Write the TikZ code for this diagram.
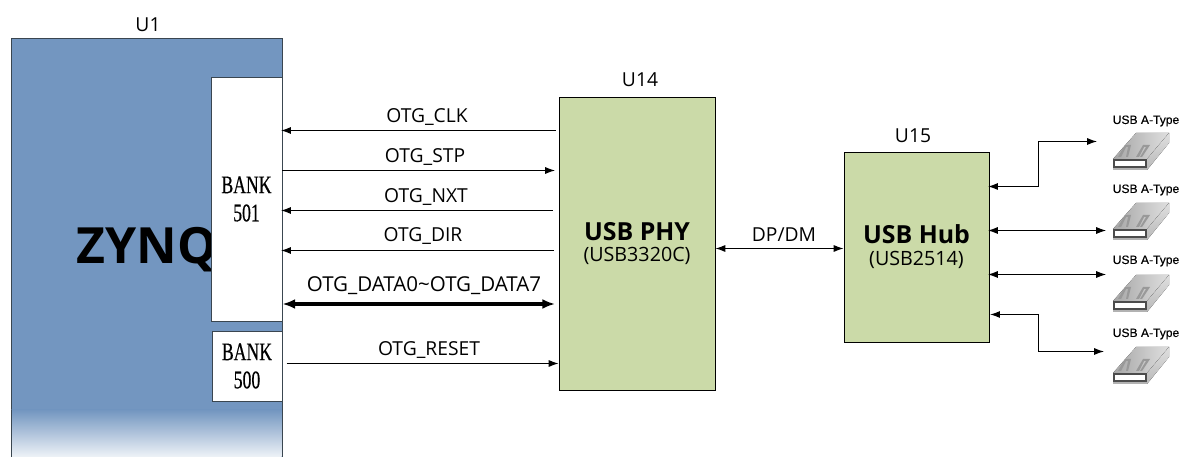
\documentclass[tikz,border=0pt]{standalone}
\usepackage{fontspec}
\setmainfont{Open Sans}
\newfontfamily\bankfont[FakeStretch=0.7,FakeBold=0.5]{Liberation Serif}
\newfontfamily\typefont[FakeBold=0.4]{Liberation Sans}
\usetikzlibrary{arrows.meta}
\definecolor{zynqblue}{HTML}{7396C0}
\definecolor{phygreen}{HTML}{CBDAA8}
\definecolor{frameline}{HTML}{3A4650}
\tikzset{
    chip/.style={draw=black, line width=0.6pt, fill=phygreen, inner sep=0pt, align=center},
    bank/.style={draw=frameline, line width=0.6pt, fill=white, inner sep=0pt, align=center, font=\bankfont\fontsize{18}{20}\selectfont},
    tag/.style={font=\fontsize{13.7}{15}\selectfont, inner sep=0pt},
    sig/.style={line width=0.75pt, >={Latex[length=7pt,width=5pt]}},
    bus/.style={line width=2.2pt, >={Latex[length=9pt,width=7pt]}},
    usbport/.pic={
        \fill[left color=gray!70, right color=gray!25] (0,26) -- (23,0) -- (56,0) -- (34,26) -- cycle;
        \fill[top color=gray!25, bottom color=gray!55] (34,26) -- (56,0) -- (56,10) -- (34,37) -- cycle;
        \fill[gray!80] (5,24) -- (12,12) -- (18,12) -- (15,24) -- (13,24) -- (15,14) -- (13,14) -- (8,24) -- cycle;
        \fill[gray!80] (23,24) -- (30,12) -- (37,12) -- (29,24) -- (27,24) -- (33,14) -- (31,14) -- (26,24) -- cycle;
        \fill[gray!60] (0,26) rectangle (34,37);
        \draw[black!70, fill=white, line width=0.8pt] (1,27) rectangle (33,34);
    }
}
\begin{document}
\begin{tikzpicture}[x=0.025cm, y=-0.025cm]
    \useasboundingbox (0,0) rectangle (1179,457);

    % zynq side
    \node[draw=frameline, line width=0.6pt, fill=zynqblue, inner sep=0pt, minimum width=6.775cm, minimum height=10.475cm] (zynq) at (146.5,247.5) {};
    \shade[top color=zynqblue, bottom color=zynqblue!12!white] (11.5,410) rectangle (281.5,456.9);
    \draw[frameline, line width=0.6pt] (11,410) -- (11,457) (282,410) -- (282,457);
    \node[font=\bfseries\fontsize{35.5}{40}\selectfont, inner sep=0pt] (zynqtext) at (147,250) {ZYNQ};
    \node[bank, minimum width=1.775cm, minimum height=6.1cm] (bankA) at (246.5,199) {BANK\\501};
    \node[bank, minimum width=1.75cm, minimum height=1.75cm] (bankB) at (247,366) {BANK\\500};

    % usb chips
    \node[chip, minimum width=3.9cm, minimum height=7.325cm] (phy) at (637,243.5) {{\bfseries\fontsize{17.7}{22}\selectfont USB PHY}\\[3.5pt]{\fontsize{14}{16}\selectfont (USB3320C)}};
    \node[chip, minimum width=3.625cm, minimum height=4.75cm] (hub) at (916.5,247) {{\bfseries\fontsize{17.7}{22}\selectfont USB Hub}\\[3.5pt]{\fontsize{14}{16}\selectfont (USB2514)}};

    \node[tag] (uA) at (148,25) {U1};
    \node[tag] (uB) at (640,80) {U14};
    \node[tag] (uC) at (913,136) {U15};

    % signals
    \coordinate (clk) at (420,130.5);
    \coordinate (stp) at (420,170.5);
    \coordinate (nxt) at (420,210.5);
    \coordinate (dir) at (420,250.5);
    \coordinate (data) at (420,304);
    \coordinate (rst) at (420,363.5);
    \coordinate (dpdm) at (780,248.5);

    \draw[sig,<-,shorten <=-1pt,shorten >=2pt] (bankA.east |- clk) -- (phy.west |- clk);
    \draw[sig,->,shorten >=2.5pt] (bankA.east |- stp) -- (phy.west |- stp);
    \draw[sig,<-,shorten <=-1pt,shorten >=4pt] (bankA.east |- nxt) -- (phy.west |- nxt);
    \draw[sig,<-,shorten <=-1pt,shorten >=3.5pt] (bankA.east |- dir) -- (phy.west |- dir);
    \draw[bus,<->,shorten >=2.5pt] (bankA.east |- data) -- (phy.west |- data);
    \draw[sig,->,shorten <=3pt] (bankB.east |- rst) -- (phy.west |- rst);
    \draw[sig,<->] (phy.east |- dpdm) -- (hub.west |- dpdm);

    \node[tag] (clktag) at (427,117) {OTG\_CLK};
    \node[tag] (stptag) at (425,157) {OTG\_STP};
    \node[tag] (nxttag) at (426,197) {OTG\_NXT};
    \node[tag] (dirtag) at (423,236) {OTG\_DIR};
    \node[tag,font=\fontsize{14.6}{15}\selectfont] (datatag) at (424,286) {OTG\_DATA0\textasciitilde OTG\_DATA7};
    \node[tag] (rsttag) at (429,350) {OTG\_RESET};
    \node[tag] (dpdmtag) at (784,235) {DP/DM};

    % usb ports
    \pic at (1113,133) {usbport};
    \pic at (1113,203) {usbport};
    \pic at (1113,275) {usbport};
    \pic at (1113,347) {usbport};
    \node[font=\typefont\fontsize{8.6}{10}\selectfont, inner sep=0pt] (typeA) at (1146,121) {USB A-Type};
    \node[font=\typefont\fontsize{8.6}{10}\selectfont, inner sep=0pt] (typeB) at (1146,190) {USB A-Type};
    \node[font=\typefont\fontsize{8.6}{10}\selectfont, inner sep=0pt] (typeC) at (1146,261) {USB A-Type};
    \node[font=\typefont\fontsize{8.6}{10}\selectfont, inner sep=0pt] (typeD) at (1146,334) {USB A-Type};

    \coordinate (bendA) at (1038.5,186.5);
    \coordinate (portA) at (1097,141.5);
    \coordinate (portB) at (1106,230.5);
    \coordinate (portC) at (1106,274.5);
    \coordinate (bendD) at (1038.5,314.5);
    \coordinate (portD) at (1104,351.5);

    \draw[sig,<->,shorten <=-1pt] (hub.east |- bendA) -- (bendA) |- (portA);
    \draw[sig,<->,line width=0.6pt,shorten <=-1pt] (hub.east |- portB) -- (portB);
    \draw[sig,<->,line width=0.6pt,shorten <=-1pt] (hub.east |- portC) -- (portC);
    \draw[sig,<->,shorten <=0.5pt] (hub.east |- bendD) -- (bendD) |- (portD);
\end{tikzpicture}
\end{document}
